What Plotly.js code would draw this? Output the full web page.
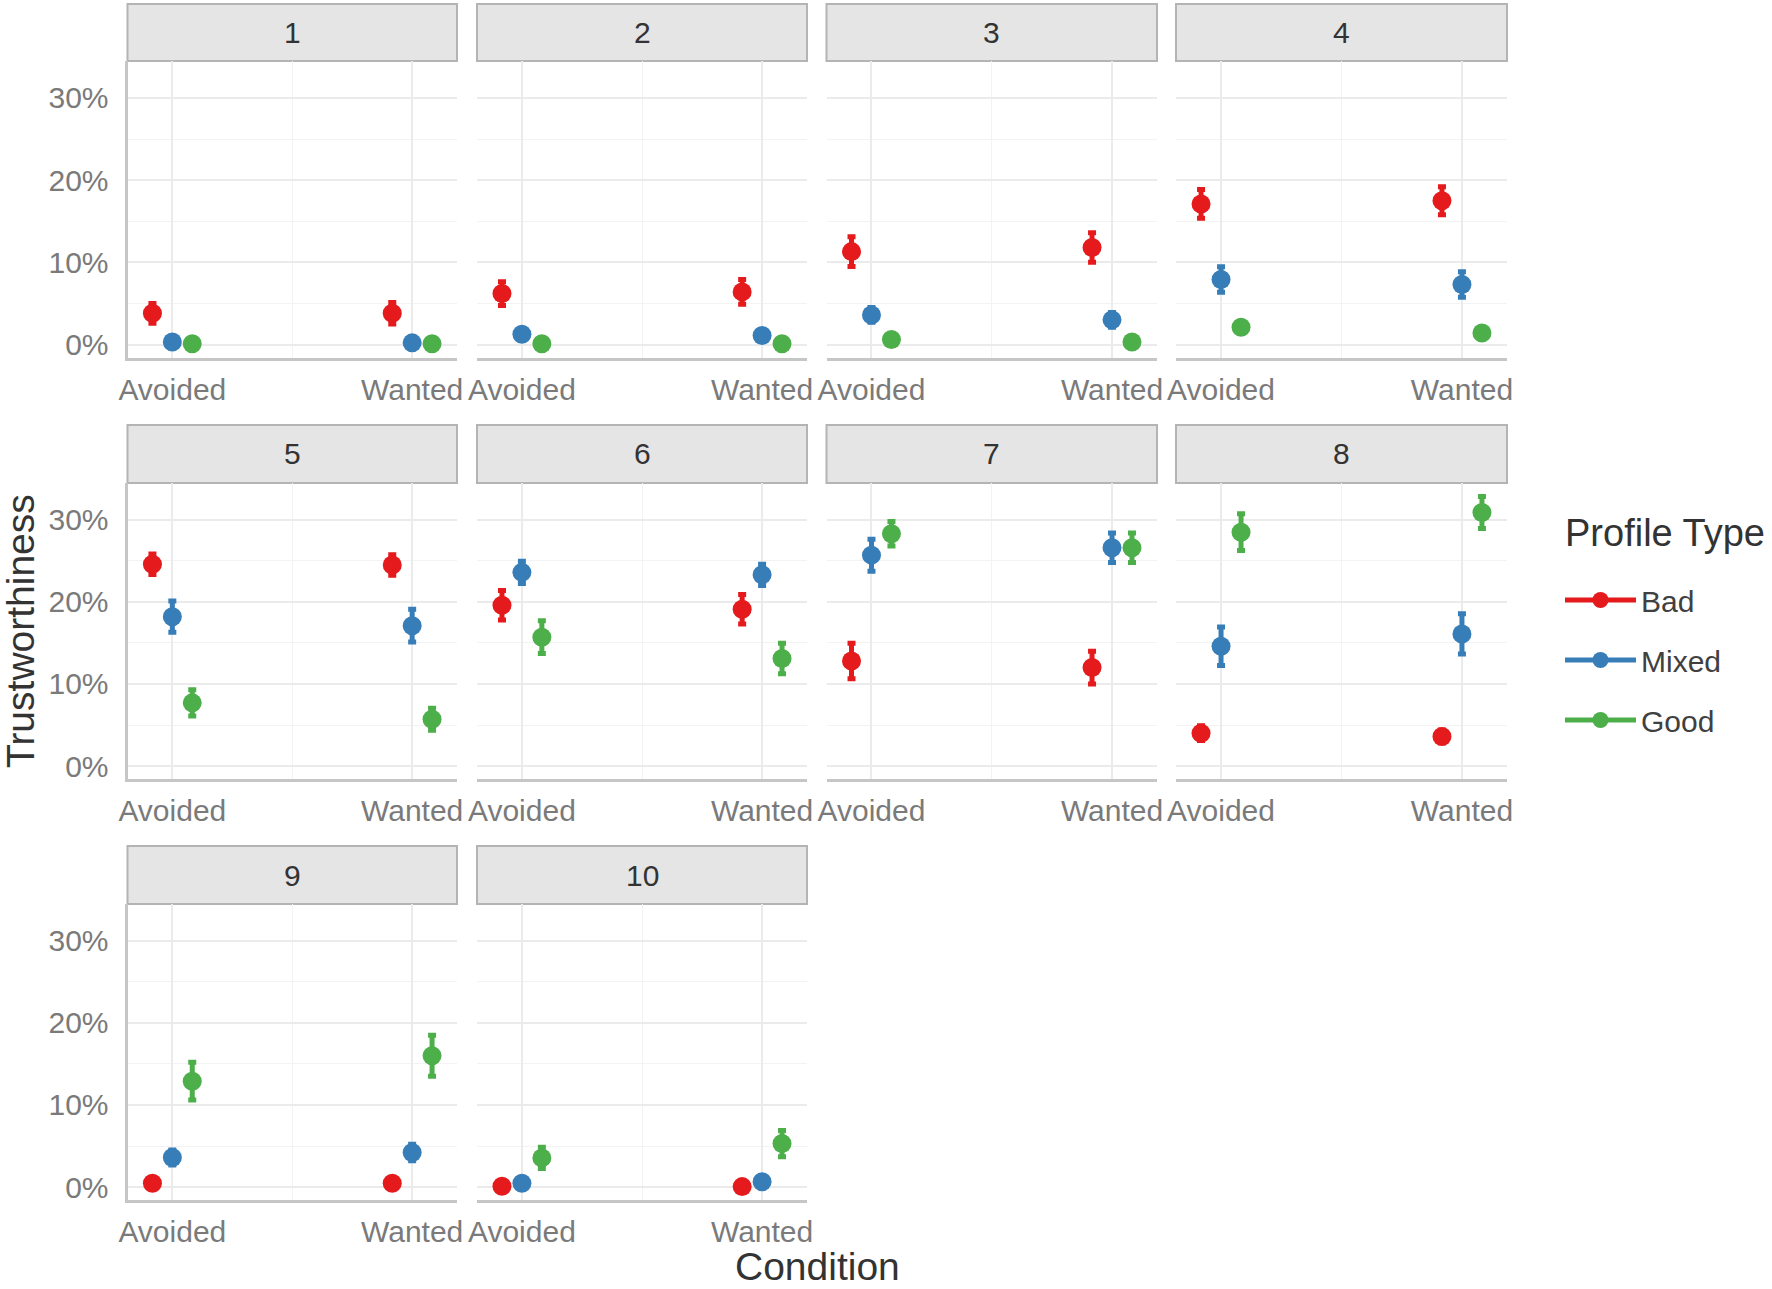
<!DOCTYPE html>
<html>
<head>
<meta charset="utf-8">
<script src="https://cdn.plot.ly/plotly-3.0.1.min.js"></script>
<style>
  html, body { margin: 0; padding: 0; background: #fff; }
  #chart { width: 1772px; height: 1289px; }
</style>
</head>
<body>
<div id="chart"></div>
<script>
// facet labels, x categories, series names, y tick labels
const panels = ["1", "2", "3", "4", "5", "6", "7", "8", "9", "10"];
const conditions = ["Avoided", "Wanted"];
const profiles = ["Bad", "Mixed", "Good"];
const yTicks = [0, 10, 20, 30];
const yTickText = ["0%", "10%", "20%", "30%"];

// trustworthiness in %, per panel: [Avoided, Wanted]
const bad = [[3.8, 3.8], [6.2, 6.4], [11.3, 11.8], [17.1, 17.5], [24.6, 24.5],
             [19.6, 19.1], [12.8, 12.0], [4.0, 3.6], [0.45, 0.45], [0.1, 0.05]];
const badErr = [[1.2, 1.3], [1.45, 1.5], [1.8, 1.8], [1.75, 1.7], [1.25, 1.25],
                [1.8, 1.8], [2.15, 2.0], [0.9, 0.8], [0.4, 0.4], [0.2, 0.2]];
const mixed = [[0.3, 0.2], [1.25, 1.1], [3.6, 3.0], [7.9, 7.3], [18.2, 17.1],
               [23.6, 23.3], [25.7, 26.6], [14.6, 16.1], [3.6, 4.2], [0.45, 0.65]];
const mixedErr = [[0.5, 0.4], [0.7, 0.6], [0.9, 0.9], [1.55, 1.55], [1.9, 2.0],
                  [1.35, 1.3], [1.95, 1.8], [2.35, 2.45], [0.9, 1.0], [0.4, 0.5]];
const good = [[0.1, 0.1], [0.1, 0.1], [0.6, 0.3], [2.1, 1.4], [7.7, 5.7],
              [15.7, 13.1], [28.3, 26.6], [28.5, 30.9], [12.9, 16.0], [3.55, 5.3]];
const goodErr = [[0.3, 0.3], [0.3, 0.3], [0.5, 0.4], [0.7, 0.6], [1.6, 1.35],
                 [2.0, 1.85], [1.5, 1.8], [2.25, 1.95], [2.3, 2.5], [1.3, 1.6]];

const series = [bad, mixed, good];
const seriesErr = [badErr, mixedErr, goodErr];
const colors = ["#E41A1C", "#377EB8", "#4DAF4A"];
const dodge = [-0.083, 0, 0.083];

// page geometry (px)
const W = 1772, H = 1289;
const cols = [[127.5, 457], [477, 807], [826.5, 1157], [1176, 1507]];
const rows = [[61, 357.5], [483, 779], [904, 1200]];   // panel top/bottom
const strips = [[4, 61], [425, 483], [846, 904]];
const FONT = "Liberation Sans, Arial, sans-serif";

const px = v => v / W;
const py = v => 1 - v / H;

const traces = [];
const layout = {
  width: W, height: H,
  margin: { l: 0, r: 0, t: 0, b: 0 },
  paper_bgcolor: "#fff",
  plot_bgcolor: "rgba(0,0,0,0)",
  font: { family: FONT, color: "#404040" },
  showlegend: true,
  legend: {
    x: px(1560), y: py(574), xanchor: "left", yanchor: "top",
    font: { size: 30, color: "#404040" },
    traceorder: "grouped",
    tracegroupgap: 18,
    itemwidth: 71,
    bgcolor: "rgba(0,0,0,0)"
  },
  shapes: [],
  annotations: []
};

panels.forEach((p, i) => {
  const r = Math.floor(i / 4), c = i % 4;
  const n = i === 0 ? "" : String(i + 1);

  layout["xaxis" + n] = {
    domain: [px(cols[c][0]), px(cols[c][1])],
    anchor: "y" + n,
    range: [0.813, 2.187],
    tickmode: "array",
    tickvals: [1, 2],
    ticktext: conditions,
    ticks: "", ticklen: 0,
    ticklabelstandoff: 3,
    tickfont: { size: 30, color: "#7a7a7a" },
    showgrid: true, gridcolor: "#ebebeb", gridwidth: 2,
    minor: { tickvals: [1.5], showgrid: true, gridcolor: "#f3f3f3", gridwidth: 1 },
    showline: true, linecolor: "#c6c6c6", linewidth: 3,
    zeroline: false, fixedrange: true
  };
  layout["yaxis" + n] = {
    domain: [py(rows[r][1]), py(rows[r][0])],
    anchor: "x" + n,
    range: [-1.58, 34.49],
    tickmode: "array",
    tickvals: yTicks,
    ticktext: yTickText,
    showticklabels: c === 0,
    ticks: "", ticklen: 0,
    ticklabelstandoff: 10,
    tickfont: { size: 30, color: "#7a7a7a" },
    showgrid: true, gridcolor: "#ebebeb", gridwidth: 2,
    minor: { tickvals: [5, 15, 25], showgrid: true, gridcolor: "#f3f3f3", gridwidth: 1 },
    showline: c === 0, linecolor: "#c6c6c6", linewidth: 3,
    zeroline: false, fixedrange: true
  };

  // facet strip
  layout.shapes.push({
    type: "rect", xref: "paper", yref: "paper",
    x0: px(cols[c][0]), x1: px(cols[c][1]),
    y0: py(strips[r][1]), y1: py(strips[r][0]),
    fillcolor: "#e5e5e5", line: { color: "#b4b4b4", width: 2 }, layer: "below"
  });
  layout.annotations.push({
    text: p, xref: "paper", yref: "paper", showarrow: false,
    x: px((cols[c][0] + cols[c][1]) / 2), y: py((strips[r][0] + strips[r][1]) / 2),
    xanchor: "center", yanchor: "middle",
    font: { size: 30, color: "#333" }
  });

  profiles.forEach((name, k) => {
    traces.push({
      type: "scatter", mode: "markers",
      x: [1 + dodge[k], 2 + dodge[k]],
      y: series[k][i],
      error_y: { type: "data", array: seriesErr[k][i], visible: true,
                 color: colors[k], thickness: 5, width: 4 },
      marker: { size: 19, color: colors[k] },
      name, legendgroup: name, showlegend: false,
      xaxis: "x" + n, yaxis: "y" + n,
      hoverinfo: "skip"
    });
  });
});

// legend entries (point + line key, as in ggplot pointrange)
profiles.forEach((name, k) => {
  traces.push({
    type: "scatter", mode: "lines+markers",
    x: [null], y: [null],
    line: { color: colors[k], width: 5 },
    marker: { size: 16, color: colors[k] },
    name, legendgroup: name, showlegend: true,
    xaxis: "x", yaxis: "y"
  });
});

layout.annotations.push({
  text: "Profile Type", xref: "paper", yref: "paper", showarrow: false,
  x: px(1563), y: py(533), xanchor: "left", yanchor: "middle",
  font: { size: 38, color: "#333" }
});
layout.annotations.push({
  text: "Trustworthiness", xref: "paper", yref: "paper", showarrow: false,
  x: px(21), y: py(631), xanchor: "center", yanchor: "middle", textangle: -90,
  borderpad: 0,
  font: { size: 39, color: "#333" }
});
layout.annotations.push({
  text: "Condition", xref: "paper", yref: "paper", showarrow: false,
  x: px(817), y: 0, xanchor: "center", yanchor: "bottom",
  borderpad: 0,
  font: { size: 39, color: "#333" }
});

Plotly.newPlot("chart", traces, layout, { staticPlot: true, displayModeBar: false });
</script>
</body>
</html>
